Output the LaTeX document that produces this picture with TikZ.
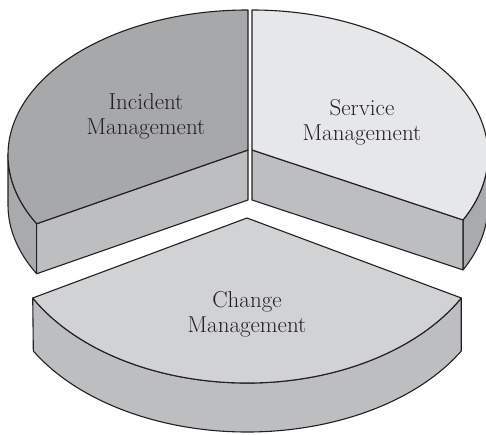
\documentclass[tikz,border=0pt]{standalone}
\usetikzlibrary{calc}
\definecolor{lineclr}{HTML}{231F20}
\definecolor{textclr}{HTML}{231F20}
\definecolor{incTop}{HTML}{A7A8AA}
\definecolor{incSide}{HTML}{BDBEC0}
\definecolor{incWall}{HTML}{A9AAAC}
\definecolor{svcTop}{HTML}{E6E7E8}
\definecolor{svcSide}{HTML}{BDBEC0}
\definecolor{svcWall}{HTML}{A9AAAC}
\definecolor{chgTop}{HTML}{D1D2D4}
\definecolor{chgWall}{HTML}{BDBEC0}
\begin{document}
\begin{tikzpicture}[x=1pt,y=1pt,
  face/.style={draw=lineclr, line width=1.1pt, line join=round},
  lbl/.style={font=\fontsize{23}{25}\selectfont, align=center, text=textclr, inner sep=0pt}]
\useasboundingbox (0,0) rectangle (486,434);
% ---------- Incident Management (left) ----------
\coordinate (EL) at (248,279);
\coordinate (AL) at (248,284);
\coordinate (TL) at (248,424);
\coordinate (KL) at ($(EL)+(208.3:240pt and 145pt)$);
\coordinate (WL) at ($(EL)+(180:240pt and 145pt)$);
\filldraw[face, fill=incWall] (WL) arc[start angle=180,end angle=208.3,x radius=240pt,y radius=145pt]
  -- ++(0,-50) arc[start angle=208.3,end angle=180,x radius=240pt,y radius=145pt] -- cycle;
\filldraw[face, fill=incSide] (KL) -- (AL) -- ($(AL)+(0,-50)$) -- ($(KL)+(0,-50)$) -- cycle;
\filldraw[face, fill=incTop] (AL) -- (TL) arc[start angle=90,end angle=208.3,x radius=240pt,y radius=145pt] -- cycle;
% ---------- Service Management (right) ----------
\coordinate (ER) at (252,279);
\coordinate (AR) at (252,284);
\coordinate (TR) at (252,424);
\coordinate (KR) at ($(ER)+(-26.6:236pt and 145pt)$);
\filldraw[face, fill=svcWall] (KR) arc[start angle=-26.6,end angle=0,x radius=236pt,y radius=145pt]
  -- ++(0,-50) arc[start angle=0,end angle=-26.6,x radius=236pt,y radius=145pt] -- cycle;
\filldraw[face, fill=svcSide] (AR) -- (KR) -- ($(KR)+(0,-50)$) -- ($(AR)+(0,-50)$) -- cycle;
\filldraw[face, fill=svcTop] (AR) -- (TR) arc[start angle=90,end angle=-26.6,x radius=236pt,y radius=145pt] -- cycle;
% ---------- Change Management (bottom) ----------
\coordinate (EB) at (247,216);
\coordinate (AB) at (247,216);
\coordinate (BL) at ($(EB)+(209:245pt and 165pt)$);
\coordinate (BR) at ($(EB)+(331:245pt and 165pt)$);
\filldraw[face, fill=chgWall] (BL) arc[start angle=209,end angle=331,x radius=245pt,y radius=165pt]
  -- ($(BR)+(0,-53)$) arc[start angle=330.2,end angle=209.8,x radius=246.6pt,y radius=161pt] -- cycle;
\filldraw[face, fill=chgTop] (AB) -- (BL) arc[start angle=209,end angle=331,x radius=245pt,y radius=165pt] -- cycle;
% ---------- labels ----------
\node[lbl] (inc) at (146,318) {Incident\\Management};
\node[lbl] (svc) at (362,312) {Service\\Management};
\node[lbl] (chg) at (247,120) {Change\\Management};
\end{tikzpicture}
\end{document}
